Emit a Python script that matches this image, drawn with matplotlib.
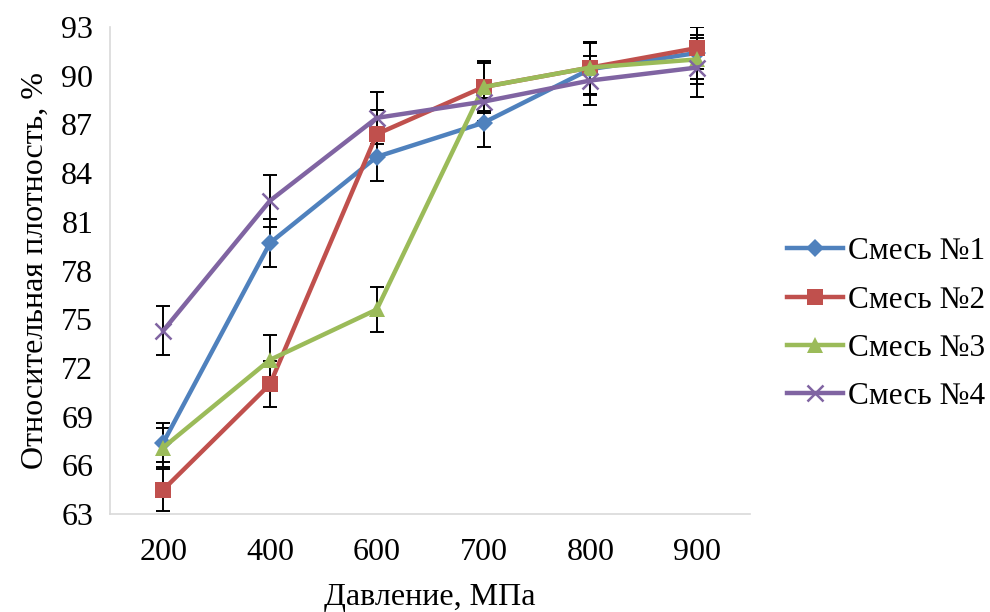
import matplotlib
matplotlib.use("Agg")
import matplotlib.pyplot as plt
import numpy as np

categories = ["200", "400", "600", "700", "800", "900"]
series_names = ["Смесь №1", "Смесь №2", "Смесь №3", "Смесь №4"]
s1 = [67.4, 79.7, 85.0, 87.1, 90.4, 91.4]
s2 = [64.5, 71.0, 86.4, 89.3, 90.5, 91.7]
s3 = [67.1, 72.5, 75.6, 89.3, 90.5, 91.0]
s4 = [74.3, 82.3, 87.4, 88.4, 89.7, 90.5]
e1 = [1.2, 1.5, 1.5, 1.5, 1.6, 1.6]
e2 = [1.3, 1.4, 1.5, 1.5, 1.6, 1.3]
e3 = [1.2, 1.5, 1.4, 1.6, 1.6, 1.5]
e4 = [1.5, 1.6, 1.6, 1.2, 1.5, 1.8]
y_ticks = [63, 66, 69, 72, 75, 78, 81, 84, 87, 90, 93]

colors = ["#4F81BD", "#C0504D", "#9BBB59", "#8064A2"]
markers = ["D", "s", "^", "x"]
msizes = [9, 11, 12, 12]

plt.rcParams['font.family'] = ['Liberation Serif', 'DejaVu Serif']

fig = plt.figure(figsize=(9.9, 6.12), dpi=100)
ax = fig.add_axes([0.111, 0.160, 0.647, 0.796])

x = np.arange(len(categories))
for vals, errs, c, m, ms, name in zip([s1, s2, s3, s4], [e1, e2, e3, e4], colors, markers, msizes, series_names):
    ax.errorbar(x, vals, yerr=errs, fmt='none', ecolor='black', elinewidth=1.4,
                capsize=5, capthick=1.4, zorder=3)
    kw = dict(markeredgewidth=1.8) if m == 'x' else dict(markeredgewidth=0)
    ax.plot(x, vals, color=c, linewidth=3.2, marker=m, markersize=ms,
            markerfacecolor=c, markeredgecolor=c, label=name, zorder=4, **kw)

ax.set_xlim(-0.5, len(categories) - 0.5)
ax.set_ylim(63, 93)
ax.set_yticks(y_ticks)
ax.set_xticks(x)
ax.set_xticklabels(categories)
ax.tick_params(axis='both', length=0, labelsize=23)
ax.tick_params(axis='x', pad=17)
ax.tick_params(axis='y', pad=12)
for s in ['top', 'right']:
    ax.spines[s].set_visible(False)
for s in ['left', 'bottom']:
    ax.spines[s].set_color('#D9D9D9')
    ax.spines[s].set_linewidth(1.2)

ax.set_xlabel("Давление, МПа", fontsize=23, labelpad=12)
ax.set_ylabel("Относительная плотность, %", fontsize=23, labelpad=8)

fig.legend(loc='center left', bbox_to_anchor=(0.795, 0.47), frameon=False,
           borderpad=0, borderaxespad=0,
           fontsize=22.5, handlelength=1.8, handletextpad=0.15, labelspacing=0.62)

fig.savefig("out.png", dpi=100)
